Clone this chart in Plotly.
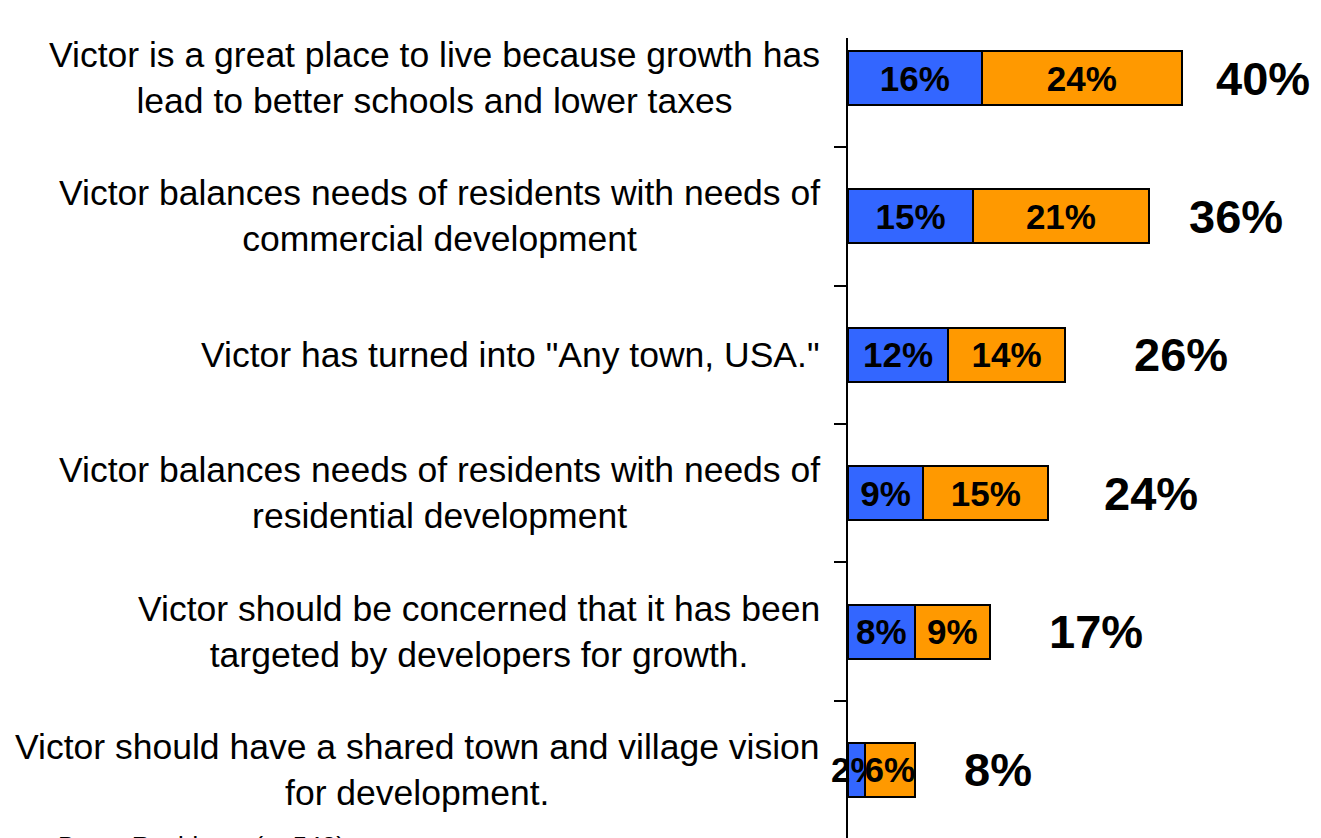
import plotly.graph_objects as go

categories = [
    "Victor is a great place to live because growth has<br>lead to better schools and lower taxes",
    "Victor balances needs of residents with needs of<br>commercial development",
    "Victor has turned into \"Any town, USA.\"",
    "Victor balances needs of residents with needs of<br>residential development",
    "Victor should be concerned that it has been<br>targeted by developers for growth.",
    "Victor should have a shared town and village vision<br>for development.",
]
series_a = [16, 15, 12, 9, 8, 2]
series_b = [24, 21, 14, 15, 9, 6]
totals = [40, 36, 26, 24, 17, 8]
total_label_offsets = [9.7, 10.5, 13.9, 12.3, 12.7, 10.0]
base_note = "Base: Residents (n=548)"

OFF = 8  # page body margin
W, H = 1321 - OFF, 838 - OFF
L, R, T, B = 848 - OFF, 0, 38 - OFF, 0
px_per_unit = 8.35
plot_w = W - L - R
plot_h = H - T - B
x_max = plot_w / px_per_unit

ypos = list(range(len(categories)))
FONT = "Liberation Sans, Arial, sans-serif"

fig = go.Figure()
for vals, col in ((series_a, "#3366FF"), (series_b, "#FF9900")):
    fig.add_trace(go.Bar(
        y=ypos, x=vals, orientation="h", width=0.39,
        marker=dict(color=col, line=dict(color="black", width=2)),
        text=[f"{v}%" for v in vals], textposition="inside", textangle=0,
        insidetextanchor="middle", constraintext="none",
        textfont=dict(family=FONT, size=35, color="black", weight="bold"),
        cliponaxis=False,
    ))

for i, (cat, tot, off) in enumerate(zip(categories, totals, total_label_offsets)):
    fig.add_annotation(x=-26 / plot_w, y=i, xref="paper", yref="y", text=cat,
                       xanchor="right", yanchor="middle", align="center", showarrow=False,
                       font=dict(family=FONT, size=35.5, color="black"))
    fig.add_annotation(x=tot + off, y=i, xref="x", yref="y", text=f"{tot}%",
                       xanchor="center", yanchor="middle", showarrow=False,
                       font=dict(family=FONT, size=47, color="black", weight="bold"))

fig.add_annotation(x=(56 - 848) / plot_w, y=(838 - 829) / plot_h, xref="paper", yref="paper",
                   text=base_note, xanchor="left", yanchor="top", showarrow=False,
                   font=dict(family=FONT, size=26, color="black"))

row_px = 138.3
y_top = 0 - 40 / row_px
y_bot = (len(categories) - 1) + 68 / row_px

fig.update_layout(
    width=W, height=H, barmode="stack", showlegend=False,
    margin=dict(l=L, r=R, t=T, b=B, pad=0),
    plot_bgcolor="white", paper_bgcolor="white",
    xaxis=dict(range=[0, x_max], visible=False, fixedrange=True),
    yaxis=dict(range=[y_bot, y_top], showline=True, linecolor="black", linewidth=2,
               tickvals=[i + 0.5 for i in range(len(categories) - 1)],
               ticktext=["" for _ in range(len(categories) - 1)],
               ticks="outside", ticklen=12, tickwidth=2, tickcolor="black",
               showgrid=False, zeroline=False, fixedrange=True),
)

fig.write_html("out.html")
